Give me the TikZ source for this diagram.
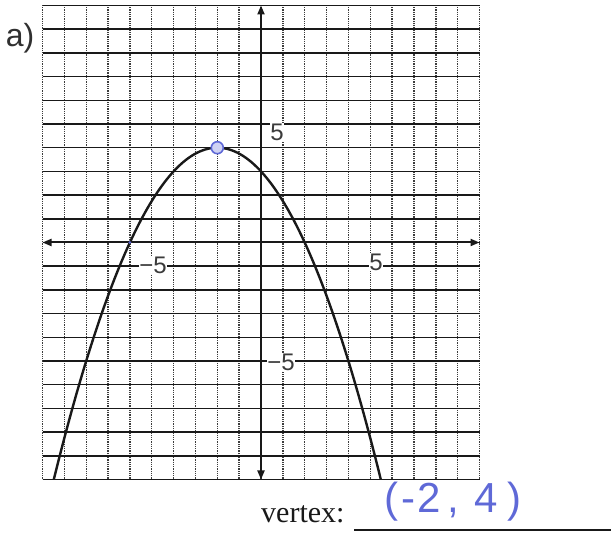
\documentclass[tikz,border=0pt]{standalone}
\usepackage{fontspec}
\setmainfont{Liberation Serif}
\newfontfamily\labelfont{Liberation Sans}
\newfontfamily\handfont{Liberation Sans}
\usetikzlibrary{arrows.meta}
\definecolor{ink}{RGB}{25,25,25}
\definecolor{handblue}{RGB}{95,105,215}
\begin{document}
\begin{tikzpicture}[x=1pt,y=1pt,
  hline/.style={line width=1.5pt, draw=ink},
  vline/.style={line width=1.4pt, draw=ink!85, dash pattern=on 1pt off 0.8pt},
  axisline/.style={line width=2pt, draw=ink, {Triangle[length=9pt,width=7pt]}-{Triangle[length=9pt,width=7pt]}},
  curveline/.style={line width=2.4pt, draw=ink},
  numlbl/.style={font=\labelfont\fontsize{24}{28}\selectfont, fill=white, inner sep=0.5pt, text=ink!85},
]
\useasboundingbox (0,0) rectangle (611,537);
\begin{scope}[shift={(261pt,294.5pt)}, x=21.85pt, y=23.7pt]
  \foreach \i in {-10,...,10} {\draw[vline] (\i,-10) -- (\i,10);}
  \foreach \j in {-10,...,10} {\draw[hline] (-10,\j) -- (10,\j);}
  \coordinate (xl) at (-10,0);
  \coordinate (xr) at (10,0);
  \coordinate (yb) at (0,-10);
  \coordinate (yt) at (0,10);
  \draw[axisline] (xl) -- (xr);
  \draw[axisline] (yb) -- (yt);
  \draw[curveline] plot[domain=-9.48:5.48, samples=120, smooth] (\x, {-(\x+2)*(\x+2)/4+4});
  \node[circle, draw=handblue, line width=1.6pt, fill=handblue!30, minimum size=12pt, inner sep=0pt] (vertex) at (-2,4) {};
  \fill[handblue] (-6,0) circle (1.5pt);
\end{scope}
\node[numlbl] (y5) at (277,405) {5};
\node[numlbl] (ym5) at (281,175) {\textminus5};
\node[numlbl] (x5) at (376,275) {5};
\node[numlbl] (xm5) at (153,272) {\textminus5};
\node[font=\labelfont\fontsize{32}{36}\selectfont, text=ink!90] (part) at (20,499) {a)};
\node[anchor=base west, font=\fontsize{30}{34}\selectfont, text=ink, inner sep=0pt] (vlabel) at (261,14) {vertex:};
\coordinate (ulstart) at (354,7);
\coordinate (ulend) at (611,7);
\draw[line width=1.5pt, ink] (ulstart) -- (ulend);
\node[text=handblue, font=\handfont\fontsize{42}{46}\selectfont, inner sep=0pt] (answer) at (453,35) {(\hspace{3pt}-\hspace{2pt}2\hspace{6pt},\hspace{16pt}4\hspace{9pt})};
\end{tikzpicture}
\end{document}
